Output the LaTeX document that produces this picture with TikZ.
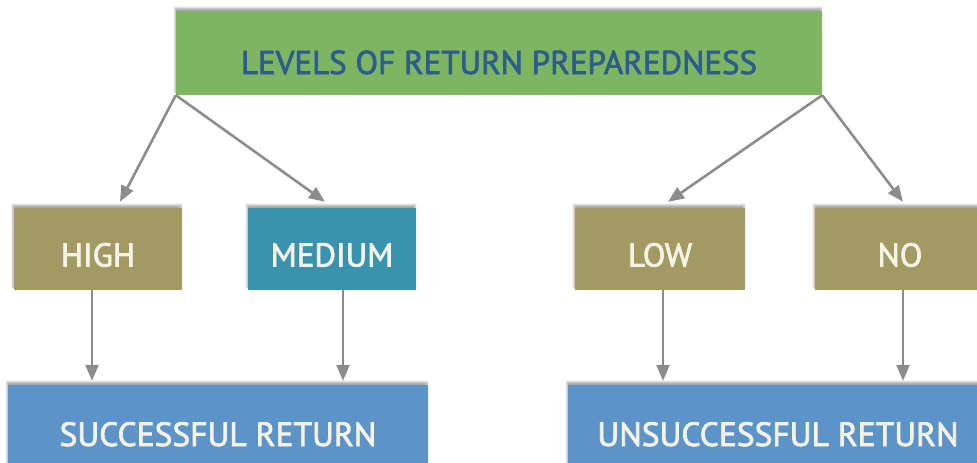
\documentclass[tikz,border=0pt]{standalone}
\usepackage{fontspec}
\setmainfont{PT Sans}
\newfontfamily\lvlfont{PT Sans}[FakeBold=2.2]
\usepackage{tikz}
\usetikzlibrary{arrows.meta}
\usetikzlibrary{shadows.blur}

\definecolor{lvlgreen}{HTML}{7DB562}
\definecolor{lvlnavy}{HTML}{2D5D8C}
\definecolor{lvlolive}{HTML}{A29963}
\definecolor{lvlteal}{HTML}{3A93AE}
\definecolor{lvlblue}{HTML}{5C94CA}
\definecolor{lvlcream}{HTML}{F5F3E6}
\definecolor{lvlgray}{HTML}{8C8C8C}

\tikzset{
  lvlbox/.style={rectangle, inner sep=0pt, text depth=0pt,
    blur shadow={shadow xshift=-1pt, shadow yshift=3pt,
      shadow blur steps=6, shadow opacity=35}},
  headbox/.style={lvlbox, fill=lvlgreen, text=lvlnavy,
    minimum width=646pt, minimum height=84pt, text height=42pt,
    font=\lvlfont\fontsize{33}{33}\selectfont},
  levelbox/.style={lvlbox, text=lvlcream,
    minimum width=168pt, minimum height=82pt, text height=35pt,
    font=\lvlfont\fontsize{33}{33}\selectfont},
  resultbox/.style={lvlbox, fill=lvlblue, text=lvlcream,
    minimum width=420pt, minimum height=84pt, text height=38pt,
    font=\lvlfont\fontsize{33.5}{33.5}\selectfont},
  every edge/.style={draw=lvlgray, line width=2.6pt},
  >={Triangle[length=16pt, width=13pt]}
}

\begin{document}
\begin{tikzpicture}[node distance=196pt]
 \useasboundingbox (0pt,0pt) rectangle (977pt,-463pt);

 \node[name=levels, headbox] at (499pt,-53pt) {LEVELS OF RETURN PREPAREDNESS};
 \node[name=high, levelbox, fill=lvlolive, below of=levels, xshift=-401pt] {HIGH};
 \node[name=medium, levelbox, fill=lvlteal, right of=high, xshift=38pt] {MEDIUM};
 \node[name=low, levelbox, fill=lvlolive, right of=medium, xshift=132pt, minimum width=170pt] {LOW};
 \node[name=no, levelbox, fill=lvlolive, right of=low, xshift=44pt, minimum width=170pt] {NO};
 \node[name=success, resultbox, below of=high, xshift=120pt, yshift=18pt] {SUCCESSFUL RETURN};
 \node[name=fail, resultbox, below of=low, xshift=118pt, yshift=18pt] {UNSUCCESSFUL RETURN};

 % top box corners fan out to the four levels
 \draw (levels.south west) edge[->] ([xshift=22pt, yshift=6pt]high.north);
 \draw (levels.south west) edge[->] ([xshift=-7pt, yshift=6pt]medium.north);
 \draw (levels.south east) edge[->] ([xshift=8pt, yshift=6pt]low.north);
 \draw (levels.south east) edge[->] ([xshift=3pt, yshift=6pt]no.north);

 % levels down to the outcome
 \draw ([xshift=-6pt]high.south) edge[->] ([xshift=-6pt, yshift=4pt]high.south |- success.north);
 \draw ([xshift=11pt]medium.south) edge[->] ([xshift=11pt, yshift=4pt]medium.south |- success.north);
 \draw ([xshift=3pt]low.south) edge[->] ([xshift=3pt, yshift=4pt]low.south |- fail.north);
 \draw ([xshift=3pt]no.south) edge[->] ([xshift=3pt, yshift=4pt]no.south |- fail.north);
\end{tikzpicture}
\end{document}
